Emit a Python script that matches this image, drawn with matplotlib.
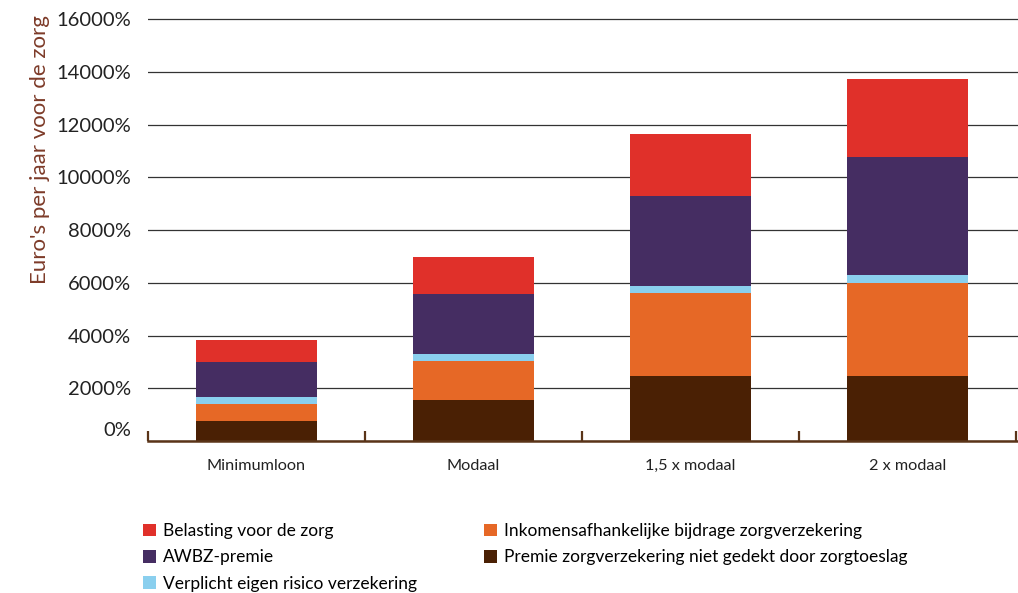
import matplotlib.pyplot as plt
import matplotlib.transforms as mtransforms
from matplotlib.patches import Patch
import numpy as np

plt.rcParams['font.family'] = ['Lato', 'DejaVu Sans']

categories = ["Minimumloon", "Modaal", "1,5 x modaal", "2 x modaal"]

# stacked from bottom to top
premie = [760, 1555, 2465, 2465]
inkomens = [645, 1480, 3145, 3525]
eigen_risico = [265, 265, 265, 305]
awbz = [1330, 2275, 3410, 4475]
belasting = [830, 1400, 2350, 2955]

series = [
    ("Premie zorgverzekering niet gedekt door zorgtoeslag", premie, "#4a2004"),
    ("Inkomensafhankelijke bijdrage zorgverzekering", inkomens, "#e66826"),
    ("Verplicht eigen risico verzekering", eigen_risico, "#8acfee"),
    ("AWBZ-premie", awbz, "#452d62"),
    ("Belasting voor de zorg", belasting, "#e0302a"),
]

yticks = [0, 2000, 4000, 6000, 8000, 10000, 12000, 14000, 16000]
ytick_labels = ["0%", "2000%", "4000%", "6000%", "8000%", "10000%", "12000%", "14000%", "16000%"]

fig = plt.figure(figsize=(10.18, 5.93), dpi=100)
ax = fig.add_axes([148 / 1018, 1 - 441 / 593, 870 / 1018, (441 - 11.1) / 593])

x = np.arange(len(categories))
bottom = np.zeros(len(categories))
colors = {}
for name, vals, col in series:
    ax.bar(x, vals, width=0.56, bottom=bottom, color=col, zorder=2)
    bottom += np.array(vals)
    colors[name] = col

ax.set_xlim(-0.5, -0.5 + 870 / 217)
ax.set_ylim(0, 16300)

ax.set_yticks(yticks)
ax.set_yticklabels(ytick_labels)
ax.yaxis.grid(True, color="#333333", linewidth=0.9, zorder=0)
ax.set_axisbelow(True)
ax.tick_params(axis="y", length=0, pad=12, labelsize=14.5, labelcolor="#222222")

ax.set_xticks(x)
ax.set_xticklabels(categories)
ax.set_xticks(np.arange(-0.5, 4.0, 1.0), minor=True)
ax.tick_params(axis="x", which="major", length=0, pad=13, labelsize=11.7, labelcolor="#222222")
ax.tick_params(axis="x", which="minor", direction="in", length=7, width=1.6, color="#5a3418")

for s in ["top", "right", "left"]:
    ax.spines[s].set_visible(False)
ax.spines["bottom"].set_color("#5a3418")
ax.spines["bottom"].set_linewidth(1.8)

# the 0% label sits a little above the baseline
offset = mtransforms.ScaledTranslation(0, 0.12, fig.dpi_scale_trans)
lab0 = ax.yaxis.get_major_ticks()[0].label1
lab0.set_transform(lab0.get_transform() + offset)

fig.text(40 / 1018, 1 - 150 / 593, "Euro's per jaar voor de zorg", rotation=90,
         ha="center", va="center", fontsize=16, color="#7d3b29")

order = ["Belasting voor de zorg", "AWBZ-premie", "Verplicht eigen risico verzekering",
         "Inkomensafhankelijke bijdrage zorgverzekering",
         "Premie zorgverzekering niet gedekt door zorgtoeslag"]
handles = [Patch(facecolor=colors[n], label=n) for n in order]
fig.legend(handles=handles, loc="upper left", bbox_to_anchor=(143 / 1018, 1 - 523 / 593),
           ncol=2, frameon=False, fontsize=12.5, handlelength=0.75, handleheight=0.75,
           handletextpad=0.4, labelspacing=0.6, columnspacing=3.85, borderaxespad=0,
           borderpad=0)

fig.savefig("out.png", dpi=100)
